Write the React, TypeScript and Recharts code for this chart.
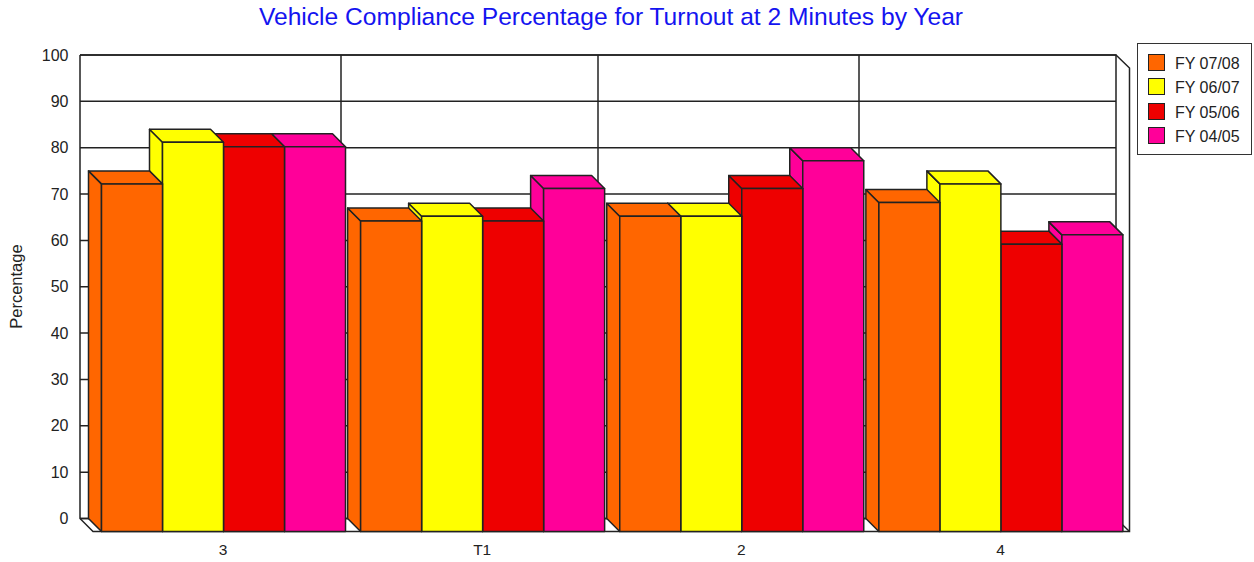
import { BarChart, Bar, XAxis, YAxis, CartesianGrid } from 'recharts';

const categories = ['3', 'T1', '2', '4'];
const fy0708 = [75, 67, 68, 71];
const fy0607 = [84, 68, 68, 75];
const fy0506 = [83, 67, 74, 62];
const fy0405 = [83, 74, 80, 64];
const yTicks = [0, 10, 20, 30, 40, 50, 60, 70, 80, 90, 100];

const data = categories.map((name, i) => ({
  name,
  fy0708: fy0708[i],
  fy0607: fy0607[i],
  fy0506: fy0506[i],
  fy0405: fy0405[i],
}));

// painted right to left so that each bar hides the side of its right neighbour,
// slot is the position the series ends up at after the flip
const series = [
  { key: 'fy0405', label: 'FY 04/05', color: '#FF0099' },
  { key: 'fy0506', label: 'FY 05/06', color: '#EE0000' },
  { key: 'fy0607', label: 'FY 06/07', color: '#FFFF00' },
  { key: 'fy0708', label: 'FY 07/08', color: '#FF6600' },
];

const DEPTH = 13;
const FONT = '"Liberation Sans", Arial, sans-serif';
const INK = '#222';

function bar3d(slot: number) {
  return (props: any) => {
    const { x, y, width, height, fill } = props;
    const bx = x + (series.length - 1 - 2 * slot) * width;
    const fx = bx + DEPTH;
    const fy = y + DEPTH;
    return (
      <g fill={fill} stroke={INK} strokeWidth={1.5} strokeLinejoin="round">
        <polygon points={`${bx},${y} ${fx},${fy} ${fx},${fy + height} ${bx},${y + height}`} />
        <polygon points={`${bx},${y} ${bx + width},${y} ${fx + width},${fy} ${fx},${fy}`} />
        <rect x={fx} y={fy} width={width} height={height} />
      </g>
    );
  };
}

function XTick(props: any) {
  return (
    <text x={props.x + DEPTH} y={555} textAnchor="middle" fontSize={15.5} fontFamily={FONT} fill="#222">
      {props.payload.value}
    </text>
  );
}

export default function App() {
  return (
    <div style={{ position: 'absolute', left: 0, top: 0, width: 1254, height: 562, background: '#fff', fontFamily: FONT }}>
      <div style={{ position: 'absolute', left: 0, width: 1222, top: 3, textAlign: 'center', fontSize: 24.6, color: '#1414F0', whiteSpace: 'nowrap' }}>
        Vehicle Compliance Percentage for Turnout at 2 Minutes by Year
      </div>

      <div
        style={{
          position: 'absolute', left: 1137, top: 43, width: 113, height: 110,
          border: '1.5px solid #333', boxSizing: 'content-box',
        }}
      >
        {[...series].reverse().map((s, i) => (
          <div key={s.key} style={{ position: 'absolute', left: 10, top: 10 + i * 24.4, height: 17, whiteSpace: 'nowrap' }}>
            <span
              style={{
                position: 'absolute', left: 0, top: 0, width: 15, height: 15,
                background: s.color, border: '1.5px solid #222',
              }}
            />
            <span style={{ position: 'absolute', left: 27, top: 0, fontSize: 16, color: '#222', lineHeight: '19px' }}>
              {s.label}
            </span>
          </div>
        ))}
      </div>

      <BarChart
        width={1254}
        height={562}
        data={data}
        margin={{ top: 55, right: 137, bottom: 0, left: 20.5 }}
        barCategoryGap={8}
        barGap={0}
      >
        <CartesianGrid
          stroke={INK}
          strokeWidth={1.5}
          strokeDasharray=""
          verticalCoordinatesGenerator={() => [341, 598, 859]}
          x={80}
          width={1036}
        />
        {/* walls and floor of the 3d box */}
        <g fill="none" stroke={INK} strokeWidth={1.5}>
          <polyline points="80,55 1116,55 1116,518.5" />
          <polyline points="1116,55 1129.5,68 1129.5,531.5 93,531.5 80,518.5 80,55" />
          <line x1={80} y1={518.5} x2={1116} y2={518.5} />
          <line x1={1116} y1={518.5} x2={1129.5} y2={531.5} />
        </g>
        <XAxis dataKey="name" height={43.5} axisLine={false} tickLine={false} tick={<XTick />} interval={0} />
        <YAxis
          width={60}
          domain={[0, 100]}
          ticks={yTicks}
          interval={0}
          axisLine={false}
          tickLine={false}
          tickMargin={6}
          tick={{ fontSize: 16, fill: '#222', fontFamily: FONT }}
          label={{
            value: 'Percentage', angle: -90, position: 'insideLeft', dx: -9, dy: 42,
            style: { fontSize: 16.5, fill: '#222', fontFamily: FONT },
          }}
        />
        {series.map((s, slot) => (
          <Bar key={s.key} dataKey={s.key} fill={s.color} isAnimationActive={false} shape={bar3d(slot)} />
        ))}
      </BarChart>
    </div>
  );
}
